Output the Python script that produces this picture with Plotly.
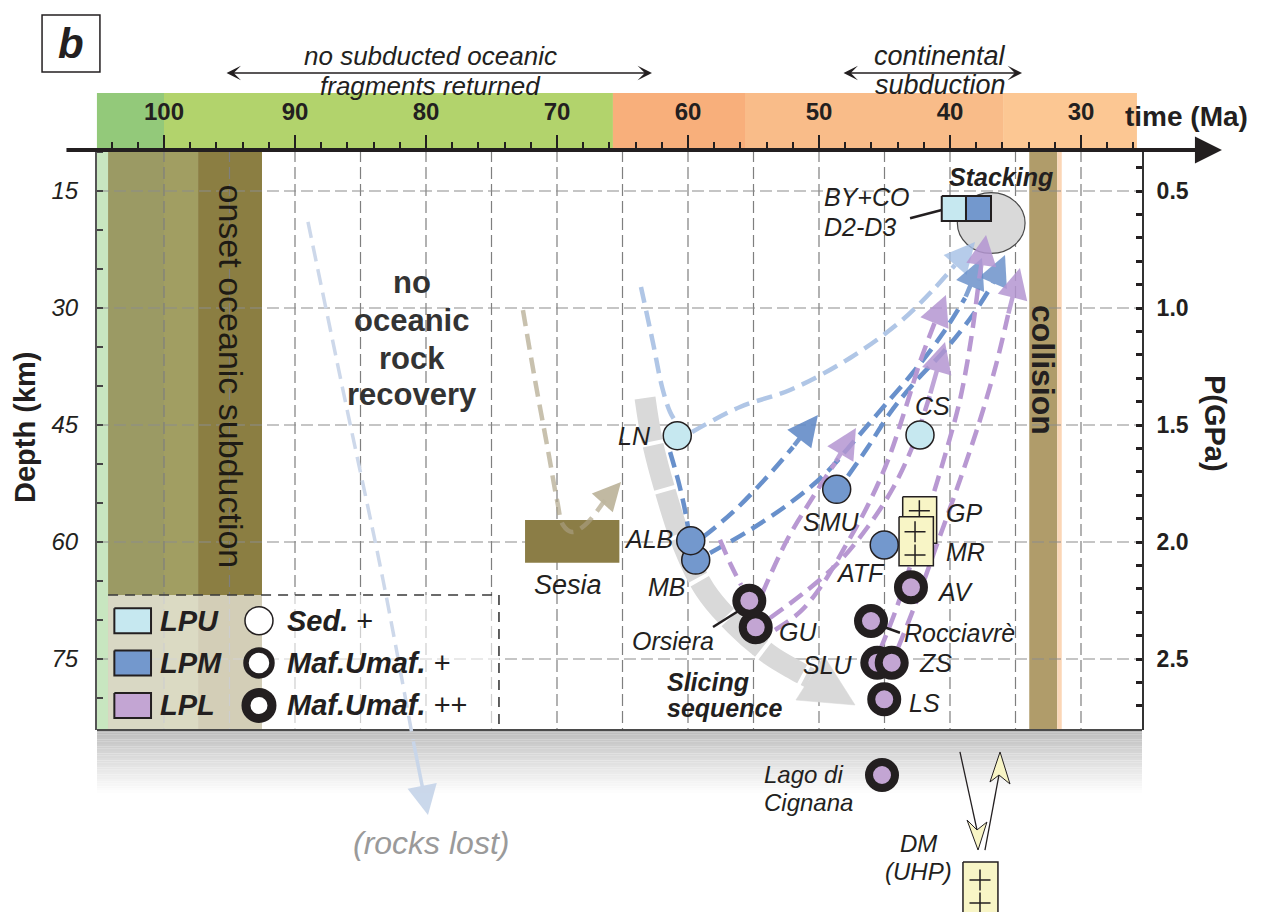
import plotly.graph_objects as go

FONT = "Liberation Sans, Arial, Helvetica, sans-serif"
INK = "#231f20"

# ---------------- axis values ----------------
time_ticks = [100, 90, 80, 70, 60, 50, 40, 30]
depth_ticks = [15, 30, 45, 60, 75]
pressure_ticks = [0.5, 1.0, 1.5, 2.0, 2.5]
time_grid = [100, 95, 90, 85, 80, 75, 70, 65, 60, 55, 50, 45, 40, 35, 30]
depth_grid = [15, 30, 45, 60, 75]

# geological time bar (Ma)
era_start = [105.12, 100.0, 65.73, 55.65, 35.95]
era_end = [100.0, 65.73, 55.65, 35.95, 25.73]
# onset of oceanic subduction columns (Ma)
stage_start = [105.12, 104.27, 100.0, 97.40]
stage_end = [104.27, 100.0, 97.40, 92.52]
# collision (Ma)
collision_age = [33.95, 31.81, 31.47]

# ---------------- samples ----------------
sample_name = ["LN", "CS", "SMU", "MB", "ALB", "ATF", "GU", "Orsiera", "AV",
               "Rocciavrè", "SLU", "ZS", "LS", "Lago di Cignana"]
sample_age = [60.82, 42.29, 48.65, 59.41, 59.79, 45.02, 54.83, 55.32, 42.98,
              46.03, 45.55, 44.45, 45.02, 45.19]
sample_depth = [46.37, 46.28, 53.24, 62.31, 59.83, 60.38, 70.94, 67.53, 65.81,
                70.13, 75.47, 75.47, 80.17, 89.87]
sample_unit = ["LPU", "LPU", "LPM", "LPM", "LPM", "LPM", "LPL", "LPL", "LPL",
               "LPL", "LPL", "LPL", "LPL", "LPL"]
sample_kind = ["sed", "sed", "maf", "maf", "maf", "maf", "maf2", "maf2", "maf2",
               "maf2", "maf2", "maf2", "maf2", "maf2"]

label_text = ["LN", "CS", "SMU", "ALB", "MB", "ATF", "Orsiera", "GU", "AV",
              "Rocciavrè", "SLU", "ZS", "LS", "GP", "MR"]
label_age = [62.67, 41.34, 49.03, 60.99, 61.63, 46.87, 61.18, 53.21, 41.15,
             43.66, 49.35, 42.54, 43.28, 40.46, 40.46]
label_depth = [46.41, 42.56, 57.40, 59.62, 65.73, 63.97, 72.65, 71.50, 66.37,
               71.63, 75.77, 75.47, 80.64, 56.28, 61.24]
label_align = ["right", "center", "center", "right", "center", "center", "center",
               "left", "left", "left", "center", "left", "left", "left", "left"]

# granite / continental slices (GP, MR, DM)
box_age0 = [43.61, 43.89, 39.01]
box_age1 = [41.02, 41.27, 36.34]
box_depth0 = [54.19, 56.76, 101.03]
box_depth1 = [60.17, 63.04, 109.10]
plus_box = [0, 1, 1, 2, 2]
plus_age = [42.34, 42.67, 42.67, 37.71, 37.71]
plus_depth = [55.99, 58.68, 61.67, 103.33, 106.28]

# Sesia block
sesia_age = [72.44, 65.24]
sesia_depth = [57.18, 62.65]

# stacking
stack_ellipse_age = [39.44, 34.27]
stack_ellipse_depth = [15.22, 22.99]
stack_sq_age = [40.63, 38.78, 36.87]
stack_sq_depth = [15.64, 18.85]

# ---------------- P-T-t paths (age Ma, depth km) ----------------
lost_age = [89.01, 86.18, 83.28, 80.99, 79.85]
lost_depth = [18.97, 41.79, 64.87, 85.38, 95.00]

sesia_path_age = [72.60, 71.68, 70.69, 70.00, 69.54, 68.85, 67.86, 66.34, 65.11]
sesia_path_depth = [30.26, 39.23, 48.21, 54.62, 57.82, 58.72, 57.82, 54.62, 52.31]

slice_age = [63.28, 62.75, 61.76, 60.38, 58.70, 56.41, 53.74, 51.83, 50.69]
slice_depth = [41.54, 46.92, 53.33, 60.38, 66.15, 70.64, 74.49, 76.41, 77.44]
slice_head_age = [51.76, 49.62, 47.25]
slice_head_depth = [80.26, 74.62, 80.90]

lpu_in_age = [63.59, 62.67, 61.98, 61.37, 60.92]
lpu_in_depth = [27.31, 34.49, 40.13, 43.33, 44.62]
lpu_out_age = [59.69, 56.03, 52.21, 47.63, 43.82, 41.30, 39.62, 38.09]
lpu_out_depth = [45.90, 42.69, 40.51, 36.41, 31.79, 27.69, 24.49, 21.54]

lpm_in_age = [61.37, 60.76, 60.31, 60.00]
lpm_in_depth = [48.46, 52.05, 55.26, 58.08]
lpm_a_age = [58.85, 56.56, 53.97, 51.98, 50.08]
lpm_a_depth = [59.36, 56.15, 51.67, 47.82, 43.72]
lpm_b_age = [58.32, 55.27, 52.21, 49.54, 47.25, 44.96, 42.67, 40.53, 38.85, 37.56]
lpm_b_depth = [61.41, 58.46, 55.00, 51.28, 46.92, 42.44, 37.95, 33.21, 28.72, 23.59]
lpm_c_age = [47.79, 46.26, 44.58, 42.67, 40.38, 38.32, 36.79, 35.80]
lpm_c_depth = [51.54, 47.82, 43.46, 39.49, 35.38, 31.03, 27.05, 23.21]

lpl_in_age = [57.56, 56.72, 55.95]
lpl_in_depth = [59.74, 62.95, 65.51]
lpl_a_age = [54.35, 52.44, 50.46, 48.78, 47.18]
lpl_a_depth = [66.67, 59.74, 54.23, 49.87, 45.38]
lpl_b_age = [53.74, 51.07, 48.55, 46.34, 44.35, 42.82, 41.53, 40.38]
lpl_b_depth = [69.74, 66.41, 62.69, 58.21, 53.08, 47.56, 41.15, 34.36]
lpl_c_age = [53.36, 51.45, 49.77, 48.02, 46.26, 44.73, 43.44, 42.29, 41.15, 40.31]
lpl_c_depth = [71.28, 68.97, 65.51, 60.64, 55.26, 49.49, 43.08, 36.92, 31.79, 28.33]
lpl_d_age = [45.34, 44.05, 42.82, 41.53, 40.31, 39.24, 38.40, 37.79, 37.25]
lpl_d_depth = [73.85, 68.33, 61.92, 55.26, 48.46, 41.79, 34.10, 26.41, 20.64]
lpl_e_age = [43.97, 42.67, 41.15, 39.24, 37.71, 36.49, 35.57, 34.66]
lpl_e_depth = [73.59, 68.08, 61.03, 52.05, 44.36, 37.31, 30.90, 24.87]

dm_down_age = [39.24, 37.94]
dm_down_depth = [86.92, 96.92]
dm_down_head_age = [38.70, 37.86, 37.18, 37.94]
dm_down_head_depth = [95.64, 99.49, 95.90, 96.92]
dm_up_age = [37.33, 36.26]
dm_up_depth = [99.49, 89.87]
dm_up_head_age = [36.95, 36.18, 35.42, 36.26]
dm_up_head_depth = [90.77, 86.92, 91.03, 89.87]

leader_by_age = [43.05, 40.63]
leader_by_depth = [18.50, 17.44]
leader_ors_age = [58.09, 56.03]
leader_ors_depth = [70.90, 68.72]
leader_roc_age = [45.09, 43.82]
leader_roc_depth = [70.86, 71.63]

# legend
legend_units = ["LPU", "LPM", "LPL"]
legend_kind_text = ["<b><i>Sed.</i></b> +", "<b><i>Maf.Umaf.</i></b> +", "<b><i>Maf.Umaf.</i></b> ++"]
legend_row_depth = [70.09, 75.51, 80.96]

# ---------------- styles ----------------
unit_color = {"LPU": "#c6e8f0", "LPM": "#7398cd", "LPL": "#c3a5d3"}
kind_size = {"sed": 28, "maf": 28, "maf2": 26}
kind_line = {"sed": 1.5, "maf": 1.5, "maf2": 8}
era_color = ["#93c97a", "#b2d36c", "#f8af7b", "#f9bc89", "#fcc793"]
stage_color = ["#c8e6c0", "#9b9a64", "#a19e62", "#8b7e42"]
C_LPU = "#b0c6e6"
C_LPM = "#6890cb"
C_LPL = "#b898d2"
YELLOW = "#f8f5c6"
DASH = "16px,8px"

# plot window and whole-canvas window (same scales: 13.1 px/Ma, 7.8 px/km)
t_left, t_right = 105.115, 25.344
d_top, d_bottom = 9.744, 84.10
canvas_t = [112.519, 16.260]
canvas_d = [107.436, -9.487]
bar_top = 2.44

fig = go.Figure()
shapes = []
ann = []


def rect(t0, t1, d0, d1, fill, layer="below", line=None):
    shapes.append(dict(type="rect", xref="x", yref="y", x0=t0, x1=t1, y0=d0, y1=d1,
                       fillcolor=fill, line=line or dict(width=0), layer=layer))


def seg(t0, t1, d0, d1, color, width, dash=None, layer="below"):
    shapes.append(dict(type="line", xref="x", yref="y", x0=t0, x1=t1, y0=d0, y1=d1,
                       line=dict(color=color, width=width, dash=dash), layer=layer))


# time bar
for a, b, c in zip(era_start, era_end, era_color):
    rect(a, b, bar_top, d_top, c)
# columns
for a, b, c in zip(stage_start, stage_end, stage_color):
    rect(a, b, d_top, d_bottom, c)
rect(collision_age[0], collision_age[1], d_top, d_bottom, "#b09c6a")
rect(collision_age[1], collision_age[2], d_top, d_bottom, "#fbd6b6")

# grid
for t in time_grid:
    seg(t, t, d_top, d_bottom, "#7f7f7f", 1.2, "12px,5px")
for d in depth_grid:
    seg(t_left, t_right, d, d, "#8c8c8c", 1.2, "12px,5px")

# legend box
rect(stage_start[1], 74.43, 66.79, d_bottom, "rgba(255,255,255,0.62)")
shapes.append(dict(type="path", xref="x", yref="y",
                   path=f"M {stage_start[1]},66.79 L 74.43,66.79 L 74.43,{d_bottom}",
                   line=dict(color="#3a3a3a", width=1.6, dash="10px,7px"), layer="below"))

# gray fade below plot
n_fade = 28
for i in range(n_fade):
    f = (i / (n_fade - 1)) ** 0.85
    v = int(round(186 + (255 - 186) * f))
    rect(t_left, t_right, d_bottom + i * 8.4 / n_fade, d_bottom + (i + 1) * 8.4 / n_fade,
         f"rgb({v},{v},{v})")
seg(t_left, t_right, d_bottom, d_bottom, "#4a4a4a", 2)

# Sesia block
rect(sesia_age[0], sesia_age[1], sesia_depth[0], sesia_depth[1], "#8b7d46")
# stacking ellipse
shapes.append(dict(type="circle", xref="x", yref="y", x0=stack_ellipse_age[0], x1=stack_ellipse_age[1],
                   y0=stack_ellipse_depth[0], y1=stack_ellipse_depth[1], fillcolor="#d9d9d9",
                   line=dict(color="#4a4a4a", width=1.2), layer="below"))
# panel label box
rect(109.31, 104.89, -7.56, -0.26, "rgba(0,0,0,0)", line=dict(color=INK, width=1.5))


def line_trace(ages, depths, color, width, dash=None, spline=True):
    fig.add_trace(go.Scatter(x=ages, y=depths, mode="lines", hoverinfo="skip",
                             line=dict(color=color, width=width, dash=dash,
                                       shape="spline" if spline else "linear", smoothing=1.0)))


def poly(ages, depths, fill, lc=INK, lw=1.5):
    fig.add_trace(go.Scatter(x=list(ages) + [ages[0]], y=list(depths) + [depths[0]], mode="lines",
                             fill="toself", fillcolor=fill, hoverinfo="skip",
                             line=dict(color=lc, width=lw)))


def head(ages, depths, color, size=1.35, width=4.5):
    ann.append(dict(x=ages[-1], y=depths[-1], ax=ages[-2], ay=depths[-2], xref="x", yref="y",
                    axref="x", ayref="y", text="", showarrow=True, arrowhead=2, arrowsize=size,
                    arrowwidth=width, arrowcolor=color, standoff=0))


def arrow_path(ages, depths, color, head_color, width=4.5, size=1.35):
    line_trace(ages[:-1], depths[:-1], color, width, DASH)
    head(ages, depths, head_color, size, width)


# slicing sequence
line_trace(slice_age, slice_depth, "#d9d9d9", 21, "44px,4px")
poly(slice_head_age, slice_head_depth, "#d9d9d9", lc="#d9d9d9", lw=0.5)

# rocks lost and Sesia
arrow_path(lost_age, lost_depth, "#cdd8ea", "rgba(200,214,234,0.95)", 3.5, 1.7)
arrow_path(sesia_path_age, sesia_path_depth, "rgba(170,160,130,0.65)", "rgba(190,182,158,0.95)", 4.5, 1.25)

# LPU
line_trace(lpu_in_age, lpu_in_depth, C_LPU, 4.5, DASH)
arrow_path(lpu_out_age, lpu_out_depth, C_LPU, "rgba(165,192,230,0.8)")
# LPM
line_trace(lpm_in_age, lpm_in_depth, C_LPM, 4.5, DASH)
arrow_path(lpm_a_age, lpm_a_depth, C_LPM, "rgba(100,140,200,0.9)")
arrow_path(lpm_b_age, lpm_b_depth, C_LPM, "rgba(100,140,200,0.8)")
arrow_path(lpm_c_age, lpm_c_depth, C_LPM, "rgba(100,140,200,0.8)")
# LPL
line_trace(lpl_in_age, lpl_in_depth, C_LPL, 4.5, DASH)
for a, d in [(lpl_a_age, lpl_a_depth), (lpl_b_age, lpl_b_depth), (lpl_c_age, lpl_c_depth),
             (lpl_d_age, lpl_d_depth), (lpl_e_age, lpl_e_depth)]:
    arrow_path(a, d, C_LPL, "rgba(180,150,210,0.85)")

# boxes with crosses
for i in range(len(box_age0)):
    poly([box_age0[i], box_age1[i], box_age1[i], box_age0[i]],
         [box_depth0[i], box_depth0[i], box_depth1[i], box_depth1[i]], YELLOW)
    pa = [plus_age[k] for k in range(len(plus_box)) if plus_box[k] == i]
    pd_ = [plus_depth[k] for k in range(len(plus_box)) if plus_box[k] == i]
    fig.add_trace(go.Scatter(x=pa, y=pd_, mode="markers", hoverinfo="skip",
                             marker=dict(symbol="cross-thin", size=15, line=dict(color=INK, width=1.5))))

# DM arrows
line_trace(dm_down_age, dm_down_depth, INK, 1.3, spline=False)
line_trace(dm_up_age, dm_up_depth, INK, 1.3, spline=False)
poly(dm_down_head_age, dm_down_head_depth, YELLOW, lw=1)
poly(dm_up_head_age, dm_up_head_depth, YELLOW, lw=1)

# leaders
for a, d in [(leader_by_age, leader_by_depth), (leader_ors_age, leader_ors_depth),
             (leader_roc_age, leader_roc_depth)]:
    line_trace(a, d, INK, 2.5, spline=False)

# samples
for n, a, d, u, k in zip(sample_name, sample_age, sample_depth, sample_unit, sample_kind):
    fig.add_trace(go.Scatter(x=[a], y=[d], mode="markers", name=n, hoverinfo="name",
                             marker=dict(symbol="circle", size=kind_size[k], color=unit_color[u],
                                         line=dict(color=INK, width=kind_line[k]))))

# stacking squares
for i, u in enumerate(["LPU", "LPM"]):
    poly([stack_sq_age[i], stack_sq_age[i + 1], stack_sq_age[i + 1], stack_sq_age[i]],
         [stack_sq_depth[0], stack_sq_depth[0], stack_sq_depth[1], stack_sq_depth[1]], unit_color[u], lw=2)

# legend items
legend_sq_age = [103.79, 100.99]
for u, dd in zip(legend_units, legend_row_depth):
    poly([legend_sq_age[0], legend_sq_age[1], legend_sq_age[1], legend_sq_age[0]],
         [dd - 1.6, dd - 1.6, dd + 1.6, dd + 1.6], unit_color[u], lw=2)
legend_ring_size = [28, 26, 26]
legend_ring_line = [1.5, 5.5, 9]
for s, lw, dd in zip(legend_ring_size, legend_ring_line, legend_row_depth):
    fig.add_trace(go.Scatter(x=[92.75], y=[dd], mode="markers", hoverinfo="skip",
                             marker=dict(size=s, color="white", line=dict(color=INK, width=lw))))

# real axes carriers
fig.add_trace(go.Scatter(x=[None], y=[None], xaxis="x2", yaxis="y2", hoverinfo="skip"))
fig.add_trace(go.Scatter(x=[None], y=[None], xaxis="x2", yaxis="y3", hoverinfo="skip"))


def txt(t, d, s, size=25, anchor="center", color=INK, angle=0, yanchor="middle"):
    ann.append(dict(x=t, y=d, xref="x", yref="y", text=s, showarrow=False, xanchor=anchor,
                    yanchor=yanchor, textangle=angle, font=dict(family=FONT, size=size, color=color)))


for s, a, d, al in zip(label_text, label_age, label_depth, label_align):
    txt(a, d, f"<i>{s}</i>", 25, al)
txt(49.77, 15.73, "<i>BY+CO</i>", 25, "left")
txt(49.77, 19.65, "<i>D2-D3</i>", 25, "left")
txt(36.11, 13.24, "<b><i>Stacking</i></b>", 25)
txt(69.16, 65.51, "<i>Sesia</i>", 27)
txt(61.76, 77.91, "<b><i>Slicing</i></b>", 25, "left")
txt(61.76, 81.28, "<b><i>sequence</i></b>", 25, "left")
txt(54.35, 89.87, "<i>Lago di</i>", 24, "left")
txt(54.35, 93.46, "<i>Cignana</i>", 24, "left")
txt(42.44, 98.59, "<i>DM</i>", 24)
txt(42.44, 102.18, "<i>(UHP)</i>", 24)
txt(79.62, 98.59, "<i>(rocks lost)</i>", 32, color="#9a9a9a")
for s, d in zip(["no", "oceanic", "rock", "recovery"], [26.79, 31.54, 36.41, 41.15]):
    txt(81.1, d, f"<b>{s}</b>", 31, color="#333333")
txt(94.89, 38.78, "onset oceanic subduction", 34, color="#1e1b14", angle=90)
txt(32.90, 37.95, "<b>collision</b>", 32, color=INK, angle=90)
txt(79.69, -2.3, "<i>no subducted oceanic</i>", 26)
txt(79.69, 1.5, "<i>fragments returned</i>", 26)
txt(40.76, -2.3, "<i>continental</i>", 27)
txt(40.76, 1.45, "<i>subduction</i>", 27)
txt(21.91, 5.51, "<b>time (Ma)</b>", 28)
txt(107.1, -3.85, "<b><i>b</i></b>", 42)
txt(110.61, 45.38, "<b>Depth (km)</b>", 29, angle=-90)
txt(19.77, 44.74, "<b>P(GPa)</b>", 29, angle=90)
for u, dd in zip(legend_units, legend_row_depth):
    txt(100.46, dd, f"<b><i>{u}</i></b>", 29, "left")
for s, dd in zip(legend_kind_text, legend_row_depth):
    txt(90.76, dd, s, 29, "left")

# double arrows at the top
for a0, a1 in [(95.34, 62.75), (48.24, 34.50)]:
    ann.append(dict(x=a1, y=-0.13, ax=a0, ay=-0.13, xref="x", yref="y", axref="x", ayref="y",
                    text="", showarrow=True, arrowside="end+start", arrowhead=3, startarrowhead=3,
                    arrowsize=1.6, startarrowsize=1.6, arrowwidth=1.5, arrowcolor=INK))
# time axis arrow
ann.append(dict(x=19.24, y=d_top, ax=107.56, ay=d_top, xref="x", yref="y", axref="x", ayref="y",
                text="", showarrow=True, arrowhead=2, arrowsize=1.35, arrowwidth=4, arrowcolor=INK))

fig.update_layout(
    width=1261, height=912, margin=dict(l=0, r=0, t=0, b=0, pad=0),
    paper_bgcolor="white", plot_bgcolor="rgba(0,0,0,0)", showlegend=False,
    font=dict(family=FONT, color=INK),
    shapes=shapes, annotations=ann,
    xaxis=dict(domain=[0, 1], range=canvas_t, visible=False, fixedrange=True),
    yaxis=dict(domain=[0, 1], range=canvas_d, visible=False, fixedrange=True),
    xaxis2=dict(domain=[97 / 1261, 1142 / 1261], range=[t_left, t_right], anchor="y2", side="top",
                tickmode="array", tickvals=time_ticks, ticks="outside", ticklen=14, tickwidth=2,
                tickcolor=INK, tickfont=dict(family=FONT, size=24, color=INK, weight="bold"),
                ticklabelstandoff=5,
                minor=dict(tickmode="linear", tick0=0, dtick=2, ticks="outside", ticklen=7,
                           tickwidth=2, tickcolor=INK, showgrid=False),
                showgrid=False, zeroline=False, showline=False, fixedrange=True),
    yaxis2=dict(domain=[182 / 912, 762 / 912], range=[d_bottom, d_top], anchor="x2",
                tickmode="array", tickvals=depth_ticks, ticks="inside", ticklen=6, tickwidth=2,
                tickcolor="#444", tickfont=dict(family=FONT, size=24, color=INK, style="italic"),
                ticklabelstandoff=12,
                minor=dict(tickmode="linear", tick0=0, dtick=5, ticks="inside", ticklen=6,
                           tickwidth=2, tickcolor="#444", showgrid=False),
                showline=True, linecolor="#555", linewidth=2, showgrid=False, zeroline=False,
                fixedrange=True),
    yaxis3=dict(overlaying="y2", side="right", anchor="x2", range=[d_bottom / 30, d_top / 30],
                tickmode="array", tickvals=pressure_ticks, tickformat=".1f", ticks="inside",
                ticklen=6, tickwidth=3, tickcolor=INK,
                tickfont=dict(family=FONT, size=23, color=INK, weight="bold"), ticklabelstandoff=8,
                minor=dict(tickmode="linear", tick0=0, dtick=0.1, ticks="inside", ticklen=6,
                           tickwidth=3, tickcolor=INK, showgrid=False),
                showline=True, linecolor="#333", linewidth=2, showgrid=False, zeroline=False,
                fixedrange=True),
)

fig.write_html("out.html", config={"displayModeBar": False},
               post_script="document.body.style.margin='0px';")
